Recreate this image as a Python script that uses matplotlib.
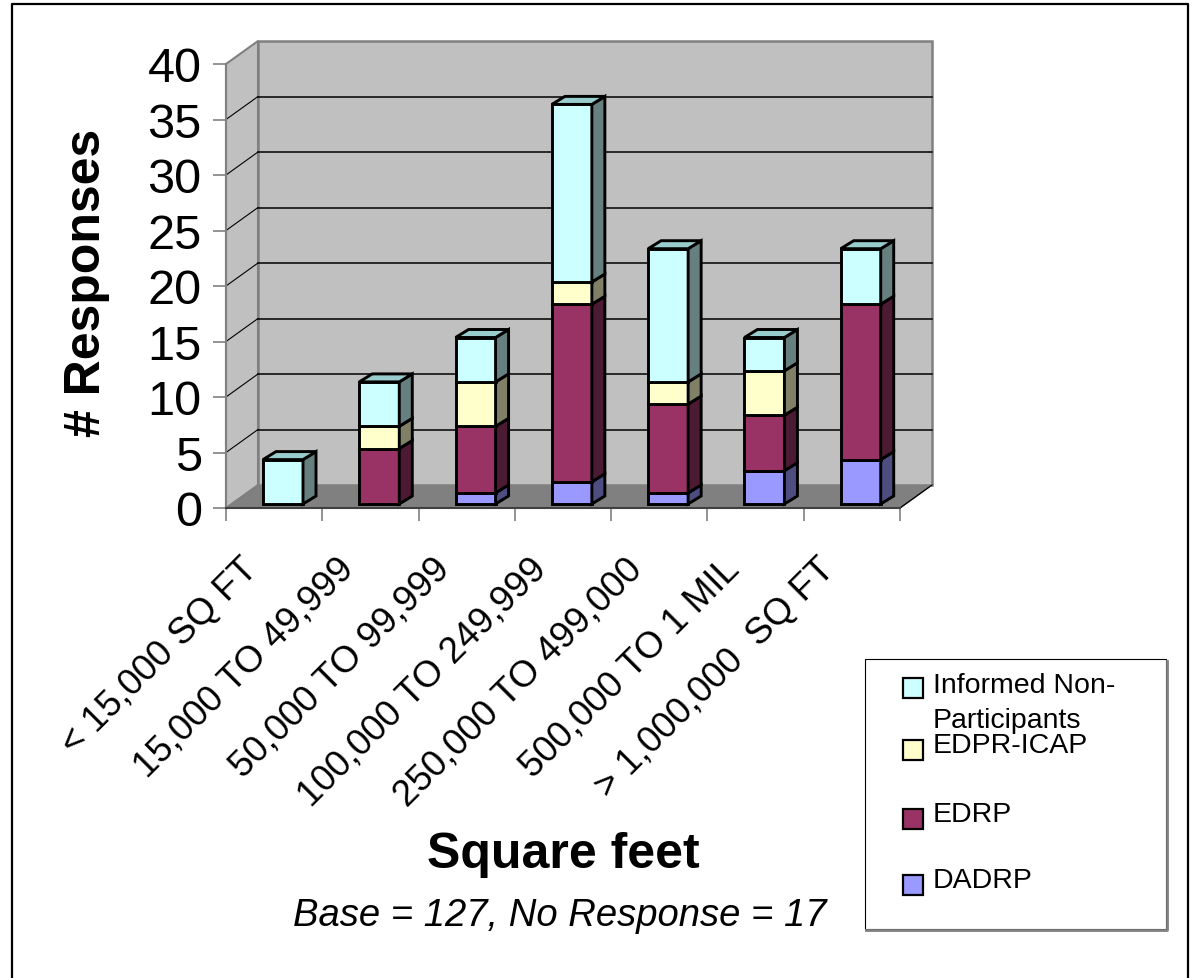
import matplotlib.pyplot as plt
import numpy as np
from matplotlib.patches import Polygon, Rectangle
from matplotlib.transforms import ScaledTranslation

plt.rcParams['font.family'] = ['Liberation Sans', 'DejaVu Sans']

# survey counts per building size
categories = ['< 15,000 SQ FT', '15,000 TO 49,999', '50,000 TO 99,999',
              '100,000 TO 249,999', '250,000 TO 499,000', '500,000 TO 1 MIL',
              '> 1,000,000  SQ FT']
dadrp = [0, 0, 1, 2, 1, 3, 4]
edrp = [0, 5, 6, 16, 8, 5, 14]
edpr_icap = [0, 2, 4, 2, 2, 4, 0]
informed = [4, 4, 4, 16, 12, 3, 5]

series = [dadrp, edrp, edpr_icap, informed]
names = ['DADRP', 'EDRP', 'EDPR-ICAP', 'Informed Non-\nParticipants']
front_cols = ['#9999FF', '#993366', '#FFFFCC', '#CCFFFF']
side_cols = ['#4D4D80', '#4D1A33', '#808066', '#668080']
top_cols = ['#7A7ACC', '#7A2952', '#CCCCA3', '#99CCCC']

W, H = 1192, 979
fig = plt.figure(figsize=(W / 100, H / 100), dpi=100)

# plot area in pixels: x 226..900, y 509 (0) .. 65 (40)
x0, x1, y0, y1 = 226, 900, 509, 65
ax = fig.add_axes([x0 / W, 1 - y0 / H, (x1 - x0) / W, (y0 - y1) / H])
ax.set_xlim(0, 7)
ax.set_ylim(0, 40)
ax.patch.set_alpha(0)
PX = (x1 - x0) / 7.0
PY = (y0 - y1) / 40.0

# depth of the 3d box and of the bars (in pixels)
wdx, wdy = 32 / PX, 23 / PY
box = dict(clip_on=False)

floor = Polygon([(0, 0), (7, 0), (7 + wdx, wdy), (wdx, wdy)], closed=True,
                facecolor='#808080', edgecolor='#404040', lw=1, zorder=1, **box)
ax.add_patch(floor)
left_wall = Polygon([(0, 0), (wdx, wdy), (wdx, 40 + wdy), (0, 40)], closed=True,
                    facecolor='#C0C0C0', edgecolor='#808080', lw=1.5, zorder=1, **box)
ax.add_patch(left_wall)
back_wall = Polygon([(wdx, wdy), (7 + wdx, wdy), (7 + wdx, 40 + wdy), (wdx, 40 + wdy)],
                    closed=True, facecolor='#C0C0C0', edgecolor='#808080', lw=1.8,
                    zorder=1, **box)
ax.add_patch(back_wall)

for v in range(5, 40, 5):
    ax.plot([wdx, 7 + wdx], [v + wdy, v + wdy], color='black', lw=1.1, zorder=2, **box)
    ax.plot([0, wdx], [v, v + wdy], color='black', lw=0.8, zorder=2, **box)
ax.plot([7, 7 + wdx], [0, wdy], color='black', lw=0.8, zorder=2, **box)

# stacked 3d bars
bl = 37 / PX          # bar front-left from category start
bw = 40 / PX          # bar width
ox, oy = 0, 4 / PY    # bar front raised above floor edge
ddx, ddy = 13 / PX, 8 / PY
ekw = dict(edgecolor='black', lw=2.1, joinstyle='miter', zorder=3, **box)

for i in range(len(categories)):
    bottom = 0
    xl = i + bl + ox
    xr = xl + bw
    top_idx = max(k for k in range(len(series)) if series[k][i] > 0)
    for k, s in enumerate(series):
        v = s[i]
        if v == 0:
            continue
        b, t = bottom + oy, bottom + v + oy
        ax.add_patch(Polygon([(xl, b), (xr, b), (xr, t), (xl, t)], closed=True,
                             facecolor=front_cols[k], **ekw))
        ax.add_patch(Polygon([(xr, b), (xr + ddx, b + ddy), (xr + ddx, t + ddy), (xr, t)],
                             closed=True, facecolor=side_cols[k], **ekw))
        if k == top_idx:
            ax.add_patch(Polygon([(xl, t), (xl + ddx, t + ddy), (xr + ddx, t + ddy), (xr, t)],
                                 closed=True, facecolor=top_cols[k], **ekw))
        bottom += v

# axes lines and ticks
for side in ['top', 'right']:
    ax.spines[side].set_visible(False)
ax.spines['left'].set_color('#808080')
ax.spines['left'].set_linewidth(1.5)
ax.spines['bottom'].set_color('#404040')
ax.spines['bottom'].set_linewidth(1.5)
ax.set_yticks(range(0, 41, 5))
ax.tick_params(axis='y', length=9.5, width=1.2, color='#808080', pad=8, labelsize=35)
ax.set_xticks(range(0, 8))
ax.set_xticklabels([])
ax.tick_params(axis='x', length=9.5, width=1.2, color='#808080')

lab_off = ax.transData + ScaledTranslation(-0.22, -0.55, fig.dpi_scale_trans)
for i, c in enumerate(categories):
    ax.text(i + 0.5, 0, c, transform=lab_off, rotation=45, rotation_mode='anchor',
            ha='right', va='center', fontsize=26.5)

ax.set_ylabel('# Responses', fontsize=36, fontweight='bold')
ax.yaxis.set_label_coords((110 - x0) / (x1 - x0), (y0 - 283) / (y0 - y1))

# page-level items in pixel coordinates
ov = fig.add_axes([0, 0, 1, 1], zorder=-1)
ov.set_xlim(0, W)
ov.set_ylim(H, 0)
ov.axis('off')
ov.plot([12, 12, 1188, 1188], [H + 5, 5, 5, H + 5], color='black', lw=1.6, clip_on=False)

ov.text(563, 868, 'Square feet', fontsize=36, fontweight='bold', ha='center', va='baseline')
ov.text(560, 926, 'Base = 127, No Response = 17', fontsize=27.5, style='italic',
        ha='center', va='baseline')

# legend
ov.add_patch(Rectangle((865, 660), 301, 270, facecolor='white', edgecolor='black', lw=0.8))
ov.plot([1167, 1167, 866], [662, 931, 931], color='#808080', lw=2)
leg_rows = [(3, 689), (2, 751), (1, 820), (0, 886)]
for k, yc in leg_rows:
    ov.add_patch(Rectangle((903, yc - 10), 20, 20, facecolor=front_cols[k],
                           edgecolor='black', lw=1.6))
    lines = names[k].split('\n')
    ty = yc - 6 if k == 3 else yc - 8
    for j, ln in enumerate(lines):
        ov.text(933, ty + 10 + 35 * j, ln, fontsize=20.5, ha='left', va='baseline')

fig.savefig('out.png', dpi=100)
